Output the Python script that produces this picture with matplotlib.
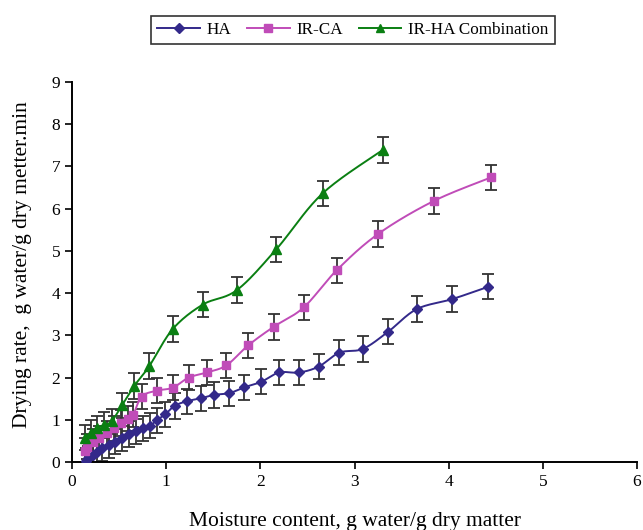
import numpy as np
import matplotlib
matplotlib.use("Agg")
import matplotlib.pyplot as plt
from matplotlib.lines import Line2D

plt.rcParams['font.family'] = ['Liberation Serif', 'DejaVu Serif']

# Drying-rate curves: moisture content (x) vs drying rate (y)
ha_x = [0.15, 0.17, 0.22, 0.27, 0.32, 0.39, 0.46, 0.53, 0.61, 0.68, 0.75, 0.83, 0.90, 0.99, 1.09,
        1.22, 1.37, 1.51, 1.67, 1.83, 2.01, 2.20, 2.41, 2.62, 2.84, 3.09, 3.36, 3.66, 4.04, 4.42]
ha_y = [0.02, 0.09, 0.17, 0.24, 0.32, 0.40, 0.48, 0.56, 0.66, 0.73, 0.80, 0.86, 0.99, 1.13, 1.33,
        1.44, 1.51, 1.59, 1.63, 1.77, 1.90, 2.12, 2.12, 2.26, 2.59, 2.68, 3.09, 3.62, 3.86, 4.15]

irca_x = [0.14, 0.16, 0.22, 0.29, 0.37, 0.45, 0.52, 0.59, 0.65, 0.74, 0.90, 1.07, 1.24, 1.43,
          1.64, 1.87, 2.14, 2.46, 2.81, 3.25, 3.84, 4.45]
irca_y = [0.26, 0.36, 0.47, 0.56, 0.68, 0.80, 0.92, 1.03, 1.12, 1.55, 1.69, 1.76, 2.00, 2.12,
          2.29, 2.76, 3.20, 3.66, 4.54, 5.40, 6.18, 6.74]

irha_x = [0.14, 0.20, 0.27, 0.34, 0.42, 0.53, 0.66, 0.82, 1.07, 1.39, 1.75, 2.17, 2.66, 3.30]
irha_y = [0.58, 0.69, 0.80, 0.88, 0.96, 1.34, 1.80, 2.27, 3.15, 3.73, 4.07, 5.04, 6.36, 7.39]

err = 0.3

x_ticks = [0, 1, 2, 3, 4, 5, 6]
y_ticks = [0, 1, 2, 3, 4, 5, 6, 7, 8, 9]


def smooth(x, y, n=20):
    """Catmull-Rom style smoothed path through the points."""
    p = np.column_stack([x, y]).astype(float)
    p = np.vstack([p[0], p, p[-1]])
    out = []
    for i in range(1, len(p) - 2):
        p0, p1, p2, p3 = p[i - 1], p[i], p[i + 1], p[i + 2]
        c1 = p1 + (p2 - p0) / 6.0
        c2 = p2 - (p3 - p1) / 6.0
        t = np.linspace(0, 1, n, endpoint=False)[:, None]
        seg = ((1 - t) ** 3) * p1 + 3 * ((1 - t) ** 2) * t * c1 + 3 * (1 - t) * t ** 2 * c2 + t ** 3 * p2
        out.append(seg)
    out.append(p[-2][None, :])
    out = np.vstack(out)
    return out[:, 0], out[:, 1]


fig = plt.figure(figsize=(6.43, 5.30), dpi=100)
ax = fig.add_axes([0.112, 0.1283, 0.8787, 0.717])

series = [
    (ha_x, ha_y, '#33298A', 'D', 5.5, 'HA'),
    (irca_x, irca_y, '#C04CB8', 's', 6.0, 'IR-CA'),
    (irha_x, irha_y, '#0A7F12', '^', 7.0, 'IR-HA Combination'),
]

handles = []
for x, y, c, m, ms, lab in series:
    ax.errorbar(x, y, yerr=err, fmt='none', ecolor='#333333', elinewidth=1.3,
                capsize=4.5, capthick=1.3, zorder=2)
    sx, sy = smooth(x, y)
    ax.plot(sx, sy, color=c, lw=1.4, zorder=3)
    ax.plot(x, y, ls='none', marker=m, ms=ms, color=c, mec=c, zorder=4)
    handles.append(Line2D([], [], color=c, lw=1.4, marker=m, ms=ms * 0.85, mec=c, label=lab))

ax.set_xlim(0, 6)
ax.set_ylim(0, 9)
ax.set_xticks(x_ticks)
ax.set_yticks(y_ticks)
ax.tick_params(direction='out', length=5, width=1.2, labelsize=12.5, colors='black')
for s in ['top', 'right']:
    ax.spines[s].set_visible(False)
for s in ['left', 'bottom']:
    ax.spines[s].set_linewidth(1.4)

ax.set_xlabel('Moisture content, g water/g dry matter', fontsize=15.5, labelpad=16)
ax.set_ylabel('Drying rate,  g water/g dry metter.min', fontsize=15.5)
ax.yaxis.set_label_coords(-0.071, 0.52)

fig.legend(handles=handles, loc='center', bbox_to_anchor=(0.549, 0.943), ncol=3,
           frameon=True, fancybox=False, edgecolor='black', fontsize=12.3,
           handlelength=2.5, handletextpad=0.4, columnspacing=0.9,
           borderpad=0.35).get_frame().set_linewidth(1.2)

fig.savefig('out.png', dpi=100)
